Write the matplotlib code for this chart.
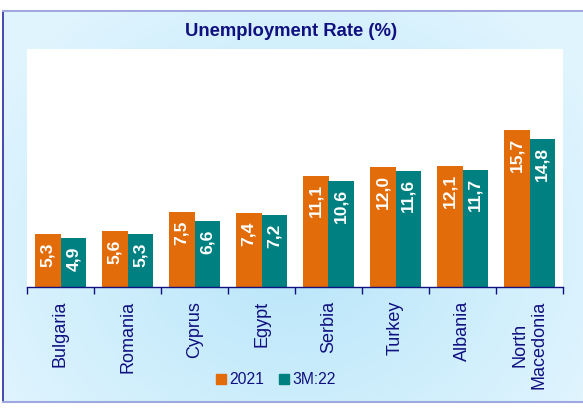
import numpy as np
import matplotlib.pyplot as plt
from matplotlib.lines import Line2D

plt.rcParams['font.family'] = ['Liberation Sans', 'DejaVu Sans']

countries = ['Bulgaria', 'Romania', 'Cyprus', 'Egypt', 'Serbia', 'Turkey', 'Albania', 'North\nMacedonia']
rate_2021 = [5.3, 5.6, 7.5, 7.4, 11.1, 12.0, 12.1, 15.7]
rate_3m22 = [4.9, 5.3, 6.6, 7.2, 10.6, 11.6, 11.7, 14.8]

orange = '#E36C0A'
teal = '#008080'
navy = '#101080'

fig = plt.figure(figsize=(5.83, 4.08), dpi=100)

# light blue gradient background
bg = fig.add_axes([0, 0, 1, 1])
yy, xx = np.mgrid[0:1:200j, 0:1:300j]
r = np.sqrt((xx - 0.5) ** 2 + ((yy - 0.6) * 0.8) ** 2)
c1 = np.array([0.72, 0.90, 0.98])
c2 = np.array([0.88, 0.96, 0.995])
t = np.clip(r / 0.6, 0, 1)[..., None]
img = c1 * (1 - t) + c2 * t
bg.imshow(img, extent=[0, 1, 0, 1], aspect='auto', origin='upper')
# white strip round the frame
bg.axhspan(1 - 11 / 408, 1, color='white')
bg.axhspan(0, 6 / 408, color='white')
bg.axvspan(0, 2 / 583, color='white')
bg.plot([3 / 583, 3 / 583], [6 / 408, 1 - 11 / 408], color='#2a2aa0', lw=1.2)
bg.plot([3 / 583, 1], [1 - 11 / 408, 1 - 11 / 408], color='#a0a8e0', lw=1.5)
bg.plot([3 / 583, 1], [6 / 408, 6 / 408], color='#a0a8e0', lw=1.5)
bg.set_xlim(0, 1)
bg.set_ylim(0, 1)
bg.axis('off')

ax = fig.add_axes([27 / 583, 121 / 408, 536 / 583, 238 / 408])
ax.set_facecolor('white')

x = np.arange(len(countries))
w = 0.383
b1 = ax.bar(x - w / 2, rate_2021, w, color=orange, label='2021')
b2 = ax.bar(x + w / 2, rate_3m22, w, color=teal, label='3M:22')

for bars, vals in [(b1, rate_2021), (b2, rate_3m22)]:
    for bar, v in zip(bars, vals):
        ax.annotate(f'{v:.1f}'.replace('.', ','),
                    (bar.get_x() + bar.get_width() / 2, bar.get_height()),
                    xytext=(0, -6), textcoords='offset points',
                    rotation=90, ha='center', va='top',
                    color='white', fontsize=12.6, fontweight='bold')

ax.set_xlim(-0.5, len(countries) - 0.5)
ax.set_ylim(0, 23.8)
ax.set_yticks([])
for s in ['top', 'right', 'left']:
    ax.spines[s].set_visible(False)
ax.spines['bottom'].set_color(navy)
ax.spines['bottom'].set_linewidth(1)

ax.set_xticks(x)
ax.set_xticklabels(countries, rotation=90, fontsize=13, color=navy,
                   ha='center', va='top', multialignment='center')
ax.tick_params(axis='x', which='major', length=0, pad=10)
ax.set_xticks(np.arange(len(countries) + 1) - 0.5, minor=True)
ax.tick_params(axis='x', which='minor', length=5, color=navy, width=1)

fig.text(0.5, 1 - 31 / 408, 'Unemployment Rate (%)', ha='center', va='center',
         fontsize=13.3, fontweight='bold', color=navy)

handles = [Line2D([], [], marker='s', linestyle='', color=orange, markersize=6.5),
           Line2D([], [], marker='s', linestyle='', color=teal, markersize=6.5)]
fig.legend(handles, ['2021', '3M:22'], loc='center', bbox_to_anchor=(274.5 / 583, 1 - 380 / 408),
           ncol=2, frameon=False, fontsize=11.3, labelcolor=navy,
           handletextpad=0.0, columnspacing=0.8, handlelength=1.0)

fig.savefig('out.png', dpi=100)
